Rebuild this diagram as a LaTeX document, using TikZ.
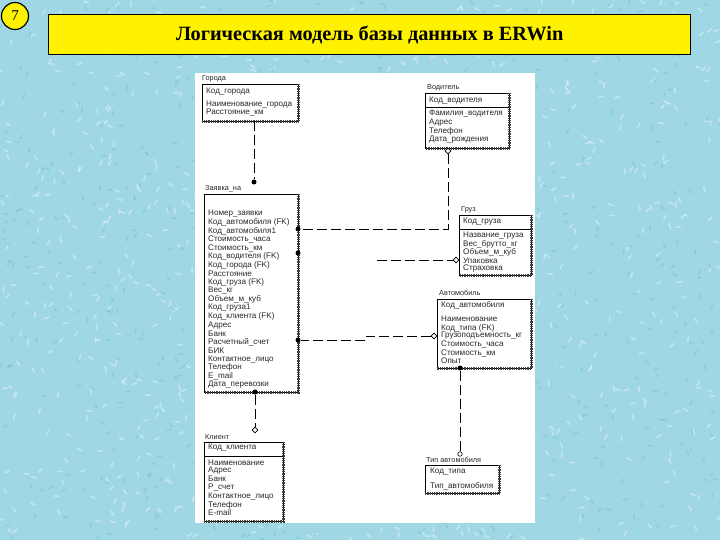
\documentclass[tikz,border=0pt]{standalone}
\usepackage{fontspec}
\setmainfont{Liberation Serif}
\newfontfamily\erfont{Liberation Sans}
\usetikzlibrary{shapes.geometric}
\definecolor{bgc}{RGB}{160,215,228}
\definecolor{bgdark}{RGB}{115,188,206}
\definecolor{txtc}{RGB}{40,40,40}
\tikzset{
  ebox/.style={draw=black, line width=0.6pt, fill=white, inner sep=0pt, anchor=north west},
  shadowedge/.style={draw=black!75, line width=2.4pt, dash pattern=on 0.9pt off 0.9pt},
  attr/.style={anchor=west, inner sep=0pt, text=txtc, font=\erfont\fontsize{8.1}{9}\selectfont},
  ename/.style={anchor=west, inner sep=0pt, text=txtc, font=\erfont\fontsize{7.3}{9}\selectfont},
  rel/.style={draw=black, line width=0.8pt, dash pattern=on 10pt off 4pt},
  fdot/.style={circle, fill=black, inner sep=0pt, minimum size=5pt},
  odia/.style={diamond, draw=black, fill=white, line width=0.6pt, inner sep=0pt, minimum size=6pt},
  ocirc/.style={circle, draw=black, fill=white, line width=0.6pt, inner sep=0pt, minimum size=4.5pt},
  sepline/.style={draw=black, line width=0.6pt}
}
\begin{document}
\begin{tikzpicture}[x=1pt,y=-1pt]
\useasboundingbox (0,0) rectangle (720,540);
\fill[bgc] (0,0) rectangle (720,540);
\pgfmathsetseed{7}
\foreach \k in {1,...,900}{
  \pgfmathsetmacro{\px}{rnd*720}
  \pgfmathsetmacro{\py}{rnd*540}
  \pgfmathsetmacro{\pa}{rnd*180}
  \fill[white, opacity=0.35, rotate around={\pa:(\px,\py)}] (\px,\py) ellipse (3.5pt and 1pt);
}
\foreach \k in {1,...,700}{
  \pgfmathsetmacro{\px}{rnd*720}
  \pgfmathsetmacro{\py}{rnd*540}
  \pgfmathsetmacro{\pa}{rnd*180}
  \fill[bgdark, opacity=0.45, rotate around={\pa:(\px,\py)}] (\px,\py) ellipse (3pt and 0.8pt);
}
% white panel
\fill[white] (195,73) rectangle (535,523);

% number and title
\node[circle, draw=black, line width=1.2pt, fill=yellow, minimum size=27pt, inner sep=0pt,
      font=\fontsize{15}{16}\selectfont] (num) at (15,16) {7};
\node[draw=black, line width=1.3pt, fill=yellow, anchor=north west, minimum width=642pt,
      minimum height=40pt, inner sep=0pt, font=\bfseries\fontsize{20.3}{24}\selectfont] (title)
      at (48,14) {Логическая модель базы данных в ERWin};

% ---------- Города ----------
\node[ename] (gorL) at (202,79) {Города};
\node[ebox, minimum width=96pt, minimum height=37pt] (gor) at (202,84) {};
\draw[shadowedge] (gor.north east) -- (gor.south east) -- (gor.south west);
\node[attr] (gor1) at (206,92) {Код\_города};
\node[attr] (gor2) at (206,105) {Наименование\_города};
\node[attr] (gor3) at (206,113) {Расстояние\_км};

% ---------- Водитель ----------
\node[ename] (vodL) at (427,88) {Водитель};
\node[ebox, minimum width=84pt, minimum height=55pt] (vod) at (425,93) {};
\draw[shadowedge] (vod.north east) -- (vod.south east) -- (vod.south west);
\draw[sepline] (425,107) -- (509,107);
\node[attr] (vod1) at (429,101) {Код\_водителя};
\node[attr] (vod2) at (429,114) {Фамилия\_водителя};
\node[attr] (vod3) at (429,123) {Адрес};
\node[attr] (vod4) at (429,131) {Телефон};
\node[attr] (vod5) at (429,140) {Дата\_рождения};

% ---------- Заявка ----------
\node[ename] (zayL) at (205,189) {Заявка\_на};
\node[ebox, minimum width=94pt, minimum height=198pt] (zay) at (204,194) {};
\draw[shadowedge] (zay.north east) -- (zay.south east) -- (zay.south west);
\foreach \t [count=\i from 0] in {Номер\_заявки, Код\_автомобиля (FK), Код\_автомобиля1,
  Стоимость\_часа, Стоимость\_км, Код\_водителя (FK), Код\_города (FK), Расстояние,
  Код\_груза (FK), Вес\_кг, Объем\_м\_куб, Код\_груза1, Код\_клиента (FK), Адрес, Банк,
  Расчетный\_счет, БИК, Контактное\_лицо, Телефон, E\_mail, Дата\_перевозки}{
  \node[attr] (zay\i) at (208,214+\i*8.55) {\t};
}

% ---------- Груз ----------
\node[ename] (grzL) at (461,210) {Груз};
\node[ebox, minimum width=72pt, minimum height=60pt] (grz) at (459,215) {};
\draw[shadowedge] (grz.north east) -- (grz.south east) -- (grz.south west);
\draw[sepline] (459,229) -- (531,229);
\node[attr] (grz1) at (463,222) {Код\_груза};
\node[attr] (grz2) at (463,236) {Название\_груза};
\node[attr] (grz3) at (463,244) {Вес\_брутто\_кг};
\node[attr] (grz4) at (463,252) {Объем\_м\_куб};
\node[attr] (grz5) at (463,261) {Упаковка};
\node[attr] (grz6) at (463,269) {Страховка};

% ---------- Автомобиль ----------
\node[ename] (avtL) at (439,293) {Автомобиль};
\node[ebox, minimum width=94pt, minimum height=69pt] (avt) at (437,299) {};
\draw[shadowedge] (avt.north east) -- (avt.south east) -- (avt.south west);
\node[attr] (avt1) at (441,305) {Код\_автомобиля};
\node[attr] (avt2) at (441,319) {Наименование};
\node[attr] (avt3) at (441,328) {Код\_типа (FK)};
\node[attr] (avt4) at (441,336) {Грузоподъемность\_кг};
\node[attr] (avt5) at (441,344) {Стоимость\_часа};
\node[attr] (avt6) at (441,353) {Стоимость\_км};
\node[attr] (avt7) at (441,361) {Опыт};

% ---------- Клиент ----------
\node[ename] (kliL) at (205,437) {Клиент};
\node[ebox, minimum width=79pt, minimum height=79pt] (kli) at (204,442) {};
\draw[shadowedge] (kli.north east) -- (kli.south east) -- (kli.south west);
\draw[sepline] (204,456) -- (283,456);
\node[attr] (kli1) at (208,448) {Код\_клиента};
\node[attr] (kli2) at (208,463) {Наименование};
\node[attr] (kli3) at (208,471) {Адрес};
\node[attr] (kli4) at (208,479) {Банк};
\node[attr] (kli5) at (208,488) {Р\_счет};
\node[attr] (kli6) at (208,497) {Контактное\_лицо};
\node[attr] (kli7) at (208,505) {Телефон};
\node[attr] (kli8) at (208,513) {E-mail};

% ---------- Тип автомобиля ----------
\node[ename] (tipL) at (426,460) {Тип автомобиля};
\node[ebox, minimum width=74pt, minimum height=28pt] (tip) at (425,465) {};
\draw[shadowedge] (tip.north east) -- (tip.south east) -- (tip.south west);
\node[attr] (tip1) at (430,472) {Код\_типа};
\node[attr] (tip2) at (430,486) {Тип\_автомобиля};

% ---------- connectors ----------
% Города -> Заявка
\coordinate (a1) at (254,121);
\node[fdot] (a2) at (254,182) {};
\draw[rel] (a1) -- (a2);
% Водитель -> Заявка
\node[odia] (b1) at (448,151) {};
\node[fdot] (b2) at (298,229) {};
\draw[rel] (b1) |- (b2);
% Груз -> Заявка (broken line)
\coordinate (c1) at (377,260);
\node[odia] (c2) at (456,260) {};
\node[fdot] (c3) at (298,253) {};
\draw[rel] (c1) -- (c2);
% Автомобиль -> Заявка
\node[odia] (d1) at (434,336) {};
\coordinate (d2) at (366,336);
\coordinate (d3) at (366,340);
\node[fdot] (d4) at (298,340) {};
\draw[rel] (d1) -- (d2) -- (d3) -- (d4);
% Заявка -> Клиент
\node[fdot] (e1) at (255,392) {};
\node[odia] (e2) at (255,430) {};
\draw[rel] (e1) -- (e2);
% Автомобиль -> Тип автомобиля
\node[fdot] (f1) at (460,368) {};
\node[ocirc] (f2) at (460,454) {};
\draw[rel] (f1) -- (f2);
\end{tikzpicture}
\end{document}
